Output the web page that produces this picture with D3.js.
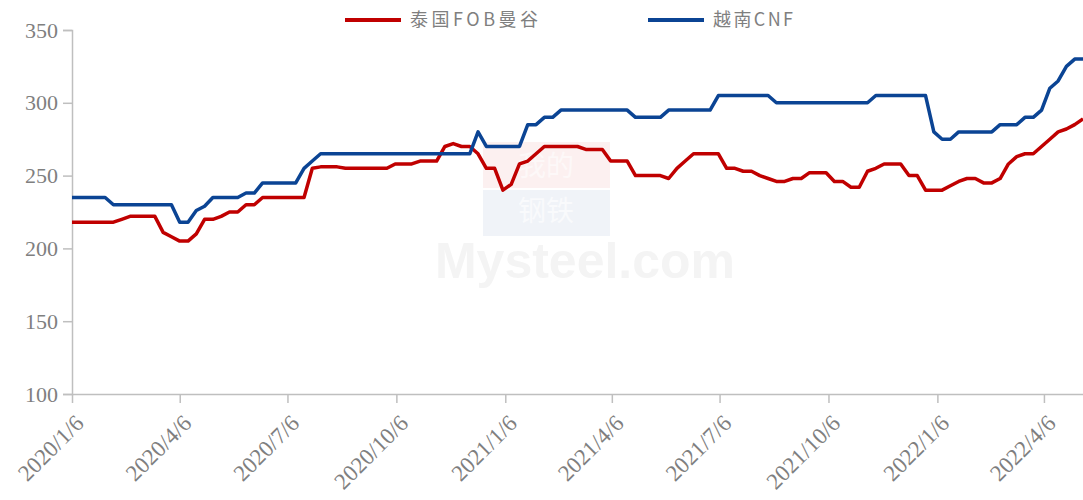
<!DOCTYPE html>
<html>
<head>
<meta charset="utf-8">
<script src="https://cdn.jsdelivr.net/npm/d3@7"></script>
<style>
  body { margin: 0; background: #fff; }
</style>
</head>
<body>
<div id="chart"></div>
<script>
// weekly data, first week 2020/1/6
var startDate = "2020/1/6";

var seriesNames = ["泰国FOB曼谷", "越南CNF"];

var thaiFob = [
  218, 218, 218, 218, 218, 218, 220, 222, 222, 222,
  222, 211, 208, 205, 205, 210, 220, 220, 222, 225,
  225, 230, 230, 235, 235, 235, 235, 235, 235, 255,
  256, 256, 256, 255, 255, 255, 255, 255, 255, 258,
  258, 258, 260, 260, 260, 270, 272, 270, 270, 265,
  255, 255, 240, 244, 258, 260, 265, 270, 270, 270,
  270, 270, 268, 268, 268, 260, 260, 260, 250, 250,
  250, 250, 248, 255, 260, 265, 265, 265, 265, 255,
  255, 253, 253, 250, 248, 246, 246, 248, 248, 252,
  252, 252, 246, 246, 242, 242, 253, 255, 258, 258,
  258, 250, 250, 240, 240, 240, 243, 246, 248, 248,
  245, 245, 248, 258, 263, 265, 265, 270, 275, 280,
  282, 285, 289
];

var vietnamCnf = [
  235, 235, 235, 235, 235, 230, 230, 230, 230, 230,
  230, 230, 230, 218, 218, 226, 229, 235, 235, 235,
  235, 238, 238, 245, 245, 245, 245, 245, 255, 260,
  265, 265, 265, 265, 265, 265, 265, 265, 265, 265,
  265, 265, 265, 265, 265, 265, 265, 265, 265, 280,
  270, 270, 270, 270, 270, 285, 285, 290, 290, 295,
  295, 295, 295, 295, 295, 295, 295, 295, 290, 290,
  290, 290, 295, 295, 295, 295, 295, 295, 305, 305,
  305, 305, 305, 305, 305, 300, 300, 300, 300, 300,
  300, 300, 300, 300, 300, 300, 300, 305, 305, 305,
  305, 305, 305, 305, 280, 275, 275, 280, 280, 280,
  280, 280, 285, 285, 285, 290, 290, 295, 310, 315,
  325, 330, 330
];

var tickLabels = ["2020/1/6", "2020/4/6", "2020/7/6", "2020/10/6", "2021/1/6",
                  "2021/4/6", "2021/7/6", "2021/10/6", "2022/1/6", "2022/4/6"];
var yTicks = [100, 150, 200, 250, 300, 350];

var parse = d3.timeParse("%Y/%-m/%-d");
var fmt = d3.timeFormat("%Y/%-m/%-d");
var t0 = parse(startDate);
var dates = thaiFob.map(function (d, i) { return d3.timeWeek.offset(t0, i); });

var width = 1083, height = 500;
var svg = d3.select("#chart")
  .append("svg")
    .attr("width", width)
    .attr("height", height);

var x = d3.scaleTime()
  .domain([t0, dates[dates.length - 1]])
  .range([72, 1083]);

var y = d3.scaleLinear()
  .domain([100, 350])
  .range([394, 30]);

// watermark
var wm = svg.append("g");
wm.append("rect").attr("x", 483).attr("y", 142).attr("width", 127).attr("height", 46).attr("fill", "#fcf0f0");
wm.append("rect").attr("x", 483).attr("y", 190).attr("width", 127).attr("height", 46).attr("fill", "#f0f3f8");
wm.append("text").attr("x", 546).attr("y", 176).attr("text-anchor", "middle")
  .style("font-family", "Noto Sans CJK SC").style("font-size", "28px").attr("fill", "#fdf8f8").text("我的");
wm.append("text").attr("x", 546).attr("y", 221).attr("text-anchor", "middle")
  .style("font-family", "Noto Sans CJK SC").style("font-size", "28px").attr("fill", "#f9fafc").text("钢铁");
wm.append("text").attr("x", 585).attr("y", 278).attr("text-anchor", "middle")
  .style("font-family", "Arial, Liberation Sans").style("font-size", "50px").style("font-weight", "bold")
  .attr("fill", "#f4f4f4").text("Mysteel.com");

// Y axis
var yAxis = svg.append("g")
  .attr("transform", "translate(72,0)")
  .call(d3.axisLeft(y).tickValues(yTicks).tickSize(9).tickPadding(5));
yAxis.select(".domain").attr("stroke", "#bfbfbf").attr("stroke-width", 1.5);
yAxis.selectAll(".tick line").attr("stroke", "#bfbfbf").attr("stroke-width", 1.5);
yAxis.selectAll(".tick text")
  .attr("fill", "#7f7f7f")
  .style("font-family", "Liberation Serif, Times New Roman, serif")
  .style("font-size", "22px");

// X axis
var xAxis = svg.append("g")
  .attr("transform", "translate(0,394)")
  .call(d3.axisBottom(x).tickValues(tickLabels.map(parse)).tickFormat(fmt).tickSize(9).tickSizeOuter(0));
xAxis.select(".domain").attr("stroke", "#bfbfbf").attr("stroke-width", 1.5);
xAxis.selectAll(".tick line").attr("stroke", "#bfbfbf").attr("stroke-width", 1.5);
xAxis.selectAll(".tick text")
  .attr("fill", "#7f7f7f")
  .style("font-family", "Liberation Serif, Times New Roman, serif")
  .style("font-size", "23px")
  .attr("text-anchor", "end")
  .attr("transform", "translate(7,25) rotate(-45)")
  .attr("y", 0)
  .attr("dy", "0.35em");

// lines
var colors = ["#c00000", "#0b4494"];
var allSeries = [thaiFob, vietnamCnf];

var line = d3.line()
  .x(function (d, i) { return x(dates[i]); })
  .y(function (d) { return y(d); });

svg.append("g")
  .selectAll("path")
  .data(allSeries)
  .enter()
  .append("path")
    .attr("d", line)
    .attr("fill", "none")
    .attr("stroke", function (d, i) { return colors[i]; })
    .attr("stroke-width", 3.5)
    .attr("stroke-linejoin", "round");

// legend
var legendX = [345, 648];
var legendW = [128, 80];
var leg = svg.append("g")
  .selectAll("g")
  .data(seriesNames)
  .enter()
  .append("g")
    .attr("transform", function (d, i) { return "translate(" + legendX[i] + ",20)"; });
leg.append("line")
  .attr("x1", 0).attr("x2", 56)
  .attr("stroke", function (d, i) { return colors[i]; })
  .attr("stroke-width", 4);
leg.append("text")
  .attr("x", 65)
  .attr("dy", "0.35em")
  .attr("textLength", function (d, i) { return legendW[i]; })
  .attr("lengthAdjust", "spacing")
  .attr("fill", "#7f7f7f")
  .style("font-family", "Noto Sans CJK SC")
  .style("font-size", "18px")
  .text(function (d) { return d; });
</script>
</body>
</html>
